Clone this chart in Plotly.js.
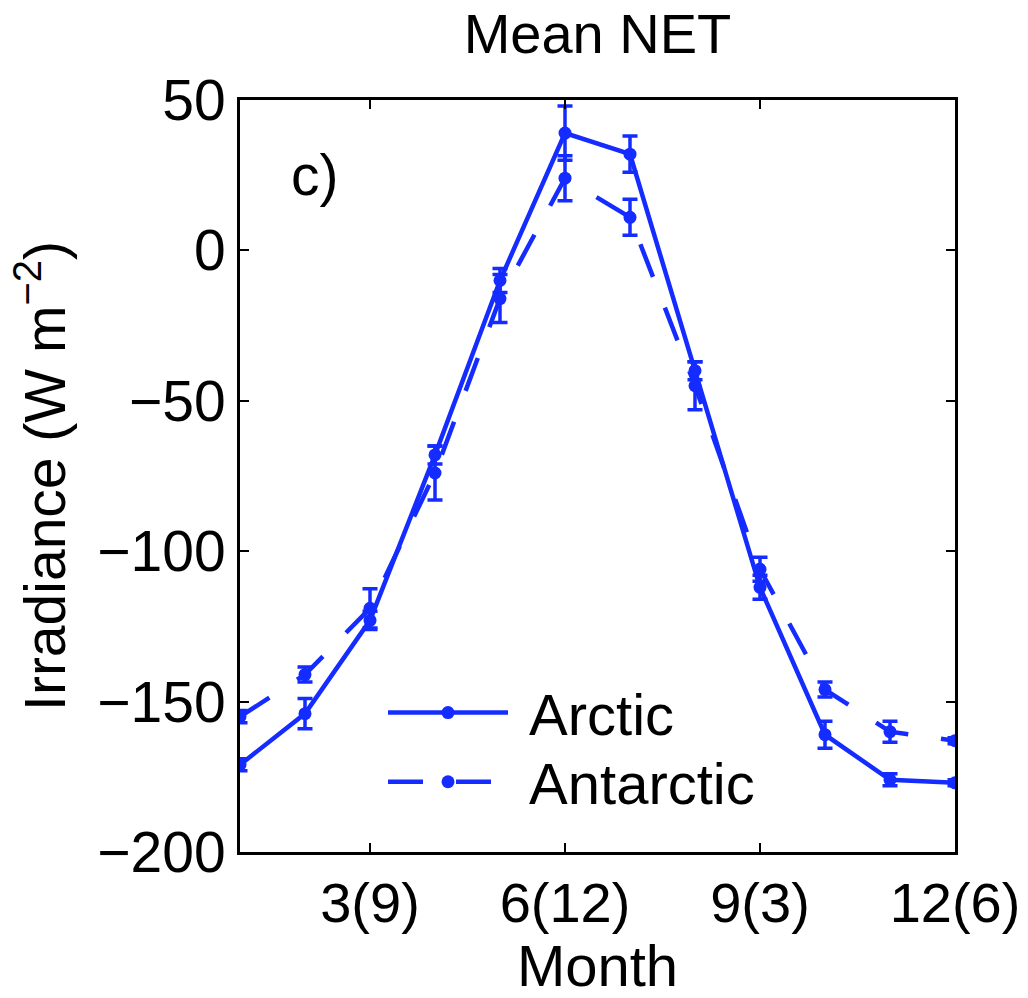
<!DOCTYPE html>
<html>
<head>
<meta charset="utf-8">
<script src="https://cdn.plot.ly/plotly-3.0.1.min.js"></script>
<style>
  html, body { margin: 0; padding: 0; background: #fff; }
  #chart { width: 1028px; height: 998px; }
</style>
</head>
<body>
<div id="chart"></div>
<script>
const months = [1, 2, 3, 4, 5, 6, 7, 8, 9, 10, 11, 12];
const arcticNet = [-171, -154, -123, -68, -10, 39, 32, -40, -112, -161, -176, -177];
const arcticErr = [2, 5, 3, 3, 4, 9, 6, 3, 4, 4.5, 2, 1];
const antarcticNet = [-155, -141, -119, -74, -16, 24, 11, -45, -106, -146, -160, -163];
const antarcticErr = [2, 2.5, 6.5, 9, 8, 7.5, 6, 8, 4, 2.5, 3.5, 1];
const xTickVals = [3, 6, 9, 12];
const xTickText = ['3(9)', '6(12)', '9(3)', '12(6)'];
const yTickVals = [50, 0, -50, -100, -150, -200];

const blue = 'rgb(20,44,255)';
const font = 'Liberation Sans, Arial, Helvetica, sans-serif';

const traces = [
  {
    x: months, y: arcticNet, name: '\u00a0Arctic', type: 'scatter', mode: 'lines+markers',
    legend: 'legend',
    line: { color: blue, width: 4.5 },
    marker: { color: blue, size: 13 },
    error_y: { type: 'data', array: arcticErr, visible: true, color: blue, thickness: 3.5, width: 7.5 }
  },
  {
    x: months, y: antarcticNet, name: '\u00a0Antarctic', type: 'scatter', mode: 'lines+markers',
    legend: 'legend2',
    line: { color: blue, width: 4.5, dash: '35px,33px' },
    marker: { color: blue, size: 13 },
    error_y: { type: 'data', array: antarcticErr, visible: true, color: blue, thickness: 3.5, width: 7.5 }
  }
];

const legendBase = {
  x: 0.2, xanchor: 'left', yanchor: 'middle',
  bgcolor: 'rgba(255,255,255,0)', borderwidth: 0,
  font: { family: font, size: 58, color: '#000' },
  itemwidth: 120
};

const layout = {
  width: 1028, height: 998,
  margin: { l: 240, r: 73, t: 100, b: 146 },
  paper_bgcolor: '#fff', plot_bgcolor: '#fff',
  font: { family: font, size: 57, color: '#000' },
  showlegend: true,
  title: { text: 'Mean NET', font: { family: font, size: 56, color: '#000' }, x: 0.5, xref: 'paper', xanchor: 'center', y: 0.967, yanchor: 'middle' },
  xaxis: {
    range: [1, 12], tickvals: xTickVals, ticktext: xTickText,
    ticks: 'inside', ticklen: 9, tickwidth: 2, tickcolor: '#000',
    showline: true, linecolor: '#000', linewidth: 3, mirror: 'ticks',
    showgrid: false, zeroline: false,
    tickfont: { family: font, size: 56, color: '#000' },
    title: { text: 'Month', font: { family: font, size: 58, color: '#000' }, standoff: 0 }
  },
  yaxis: {
    range: [-200, 50], tickvals: yTickVals,
    ticks: 'inside', ticklen: 9, tickwidth: 2, tickcolor: '#000',
    showline: true, linecolor: '#000', linewidth: 3, mirror: 'ticks',
    showgrid: false, zeroline: false,
    tickfont: { family: font, size: 57, color: '#000' },
    title: { text: 'Irradiance (W m<sup>\u22122</sup>)', font: { family: font, size: 57, color: '#000' }, standoff: 14 }
  },
  legend: Object.assign({}, legendBase, { y: 0.185 }),
  legend2: Object.assign({}, legendBase, { y: 0.093 }),
  annotations: [
    { text: 'c)', xref: 'paper', yref: 'paper', x: 0.068, y: 0.9, xanchor: 'left', yanchor: 'middle', showarrow: false, font: { family: font, size: 57, color: '#000' } }
  ]
};

Plotly.newPlot('chart', traces, layout, { displayModeBar: false, staticPlot: true });
</script>
</body>
</html>
